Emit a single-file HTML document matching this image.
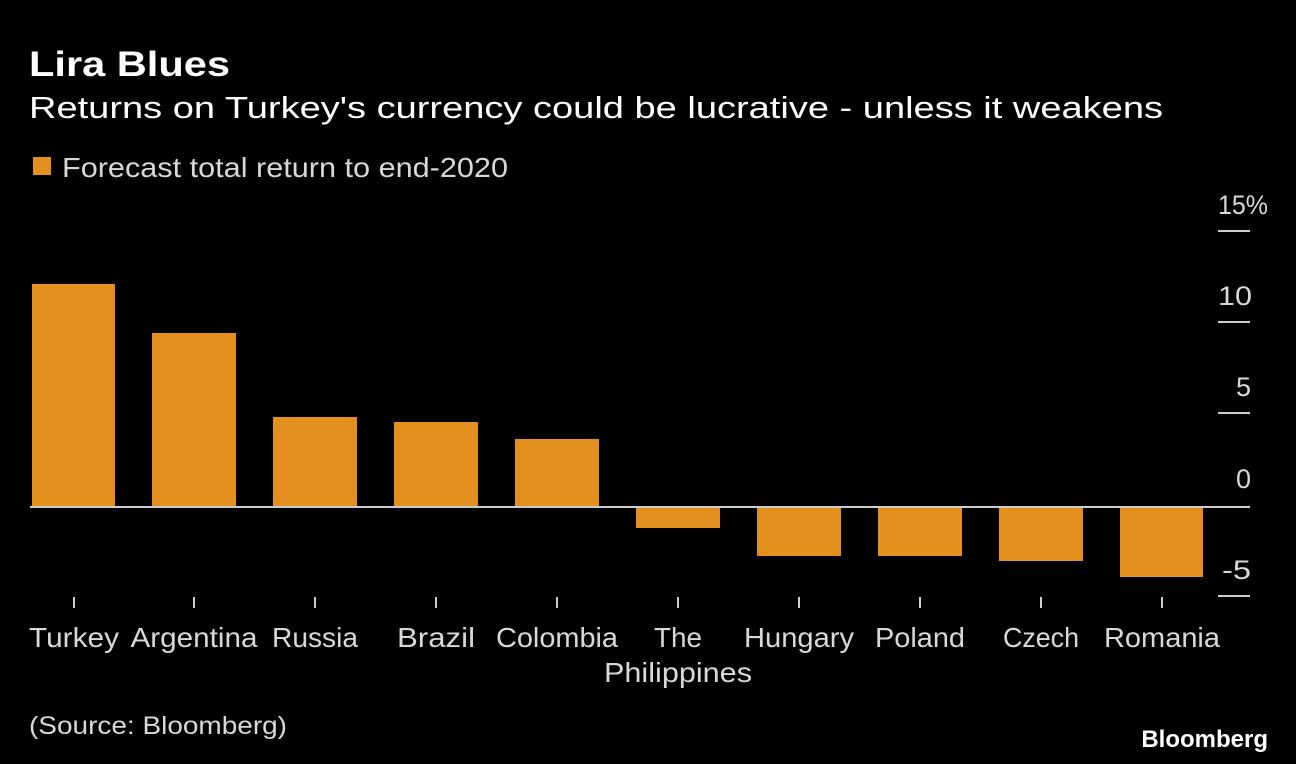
<!DOCTYPE html>
<html><head><meta charset="utf-8"><style>
html,body{margin:0;padding:0;background:#000;}
svg{display:block;font-family:"Liberation Sans",sans-serif;}
</style></head><body>
<svg width="1296" height="764" viewBox="0 0 1296 764">
<rect width="1296" height="764" fill="#000"/>
<text x="29" y="76" fill="#fff" font-size="35" font-weight="bold" textLength="201" lengthAdjust="spacingAndGlyphs">Lira Blues</text>
<text x="29" y="118" fill="#fff" font-size="31" textLength="1134" lengthAdjust="spacingAndGlyphs">Returns on Turkey's currency could be lucrative - unless it weakens</text>
<rect x="33" y="157" width="18" height="18" fill="#e3901f"/>
<text x="62" y="177" fill="#d8d8d8" font-size="28" textLength="446" lengthAdjust="spacingAndGlyphs">Forecast total return to end-2020</text>
<g fill="#e3901f">
<rect x="32" y="284" width="83" height="223"/>
<rect x="152" y="333" width="84" height="174"/>
<rect x="273" y="417" width="84" height="90"/>
<rect x="394" y="422" width="84" height="85"/>
<rect x="515" y="439" width="84" height="68"/>
<rect x="636" y="507" width="84" height="21"/>
<rect x="757" y="507" width="84" height="49"/>
<rect x="878" y="507" width="84" height="49"/>
<rect x="999" y="507" width="84" height="54"/>
<rect x="1120" y="507" width="83" height="70"/>
</g>
<line x1="30" y1="507" x2="1250" y2="507" stroke="#ccc" stroke-width="2"/>
<g stroke="#ccc" stroke-width="2">
<line x1="1218" y1="231" x2="1250" y2="231"/>
<line x1="1218" y1="322" x2="1250" y2="322"/>
<line x1="1218" y1="413" x2="1250" y2="413"/>
<line x1="1218" y1="596" x2="1250" y2="596"/>
<line x1="74" y1="597" x2="74" y2="608"/>
<line x1="194" y1="597" x2="194" y2="608"/>
<line x1="315" y1="597" x2="315" y2="608"/>
<line x1="436" y1="597" x2="436" y2="608"/>
<line x1="557" y1="597" x2="557" y2="608"/>
<line x1="678" y1="597" x2="678" y2="608"/>
<line x1="799" y1="597" x2="799" y2="608"/>
<line x1="920" y1="597" x2="920" y2="608"/>
<line x1="1041" y1="597" x2="1041" y2="608"/>
<line x1="1162" y1="597" x2="1162" y2="608"/>
</g>
<g fill="#d8d8d8" font-size="27">
<text x="1218" y="214" textLength="50" lengthAdjust="spacingAndGlyphs">15%</text>
<text x="1218" y="305" textLength="34" lengthAdjust="spacingAndGlyphs">10</text>
<text x="1236" y="396">5</text>
<text x="1236" y="488">0</text>
<text x="1222" y="579" textLength="29" lengthAdjust="spacingAndGlyphs">-5</text>
</g>
<g fill="#d8d8d8" font-size="28" text-anchor="middle">
<text x="74" y="647" textLength="90" lengthAdjust="spacingAndGlyphs">Turkey</text>
<text x="194" y="647" textLength="127" lengthAdjust="spacingAndGlyphs">Argentina</text>
<text x="315" y="647" textLength="86" lengthAdjust="spacingAndGlyphs">Russia</text>
<text x="436" y="647" textLength="78" lengthAdjust="spacingAndGlyphs">Brazil</text>
<text x="557" y="647" textLength="122" lengthAdjust="spacingAndGlyphs">Colombia</text>
<text x="678" y="647" textLength="48" lengthAdjust="spacingAndGlyphs">The</text>
<text x="678" y="682" textLength="148" lengthAdjust="spacingAndGlyphs">Philippines</text>
<text x="799" y="647" textLength="110" lengthAdjust="spacingAndGlyphs">Hungary</text>
<text x="920" y="647" textLength="90" lengthAdjust="spacingAndGlyphs">Poland</text>
<text x="1041" y="647" textLength="76" lengthAdjust="spacingAndGlyphs">Czech</text>
<text x="1162" y="647" textLength="116" lengthAdjust="spacingAndGlyphs">Romania</text>
</g>
<text x="29" y="734" fill="#d8d8d8" font-size="25" textLength="258" lengthAdjust="spacingAndGlyphs">(Source: Bloomberg)</text>
<text x="1268" y="747" fill="#fff" font-size="24" font-weight="bold" text-anchor="end">Bloomberg</text>
</svg>
</body></html>
